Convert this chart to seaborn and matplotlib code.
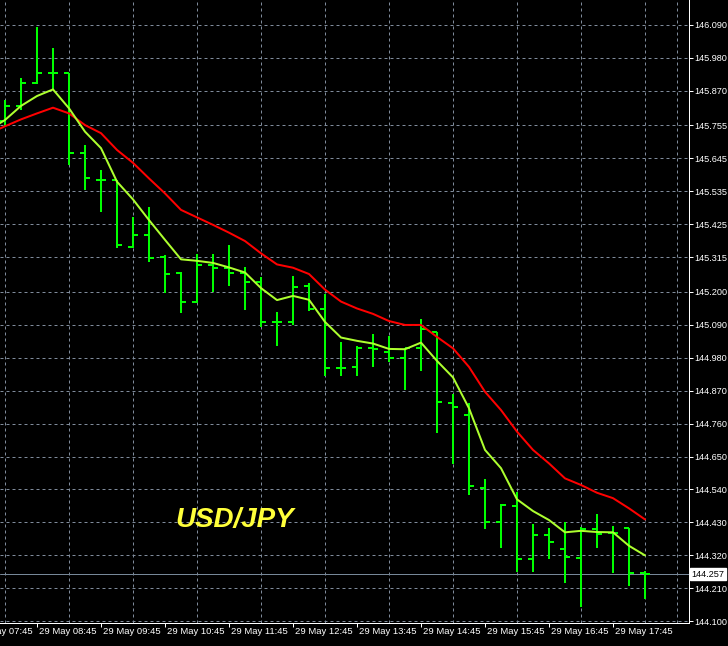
import matplotlib
matplotlib.use("Agg")
import matplotlib.pyplot as plt
import matplotlib.transforms as mtransforms
import numpy as np
import pandas as pd
import seaborn as sns

# ---------------- data ----------------
bar_index = list(range(41))  # 15-minute bars, 29 May 08:15 .. 18:15
opens = [145.770, 145.821, 145.897, 145.929, 145.929, 145.662, 145.573, 145.573, 145.350, 145.388,
         145.315, 145.261, 145.165, 145.288, 145.280, 145.261, 145.232, 145.098, 145.100, 145.219,
         145.142, 144.946, 144.950, 145.011, 145.000, 144.978, 145.011, 145.067, 144.828, 144.789,
         144.546, 144.431, 144.486, 144.307, 144.388, 144.342, 144.312, 144.408, 144.394, 144.410, 144.260]
highs = [145.840, 145.914, 146.084, 146.012, 145.929, 145.690, 145.606, 145.573, 145.450, 145.484,
         145.323, 145.265, 145.326, 145.326, 145.356, 145.283, 145.248, 145.131, 145.252, 145.228,
         145.192, 145.033, 145.019, 145.059, 145.052, 145.011, 145.108, 145.067, 144.859, 144.829,
         144.574, 144.491, 144.533, 144.425, 144.410, 144.431, 144.414, 144.458, 144.418, 144.410, 144.268]
lows = [145.753, 145.806, 145.893, 145.873, 145.623, 145.539, 145.467, 145.346, 145.345, 145.300,
        145.197, 145.130, 145.161, 145.200, 145.220, 145.139, 145.083, 145.019, 145.089, 145.137,
        144.919, 144.919, 144.919, 144.948, 144.966, 144.872, 144.936, 144.730, 144.625, 144.522,
        144.407, 144.344, 144.266, 144.264, 144.308, 144.227, 144.147, 144.346, 144.260, 144.218, 144.174]
closes = [145.821, 145.897, 145.929, 145.929, 145.664, 145.578, 145.573, 145.356, 145.388, 145.314,
          145.258, 145.165, 145.288, 145.280, 145.261, 145.233, 145.098, 145.098, 145.217, 145.142,
          144.946, 144.946, 145.012, 145.009, 144.978, 145.011, 145.075, 144.833, 144.816, 144.553,
          144.431, 144.488, 144.309, 144.388, 144.364, 144.316, 144.408, 144.390, 144.394, 144.262, 144.257]

ma_index = list(range(-1, 41))
ma_fast = [145.740, 145.773, 145.820, 145.853, 145.875, 145.812, 145.734, 145.679, 145.567, 145.508, 145.439,
           145.373, 145.308, 145.303, 145.296, 145.281, 145.264, 145.212, 145.172, 145.186, 145.173,
           145.099, 145.047, 145.036, 145.027, 145.009, 145.008, 145.030, 144.969, 144.914, 144.811,
           144.672, 144.611, 144.507, 144.468, 144.438, 144.397, 144.402, 144.398, 144.397, 144.352, 144.320]
ma_slow = [145.728, 145.752, 145.775, 145.795, 145.814, 145.795, 145.756, 145.729, 145.673, 145.630, 145.578,
           145.528, 145.473, 145.448, 145.423, 145.397, 145.369, 145.328, 145.291, 145.280, 145.259,
           145.207, 145.167, 145.144, 145.126, 145.102, 145.089, 145.089, 145.049, 145.011, 144.949,
           144.866, 144.805, 144.733, 144.672, 144.627, 144.577, 144.555, 144.529, 144.511, 144.477, 144.440]

price_ticks = [146.090, 145.980, 145.870, 145.755, 145.645, 145.535, 145.425, 145.315, 145.200, 145.090,
               144.980, 144.870, 144.760, 144.650, 144.540, 144.430, 144.320, 144.210, 144.100]
time_label_index = [-2, 2, 6, 10, 14, 18, 22, 26, 30, 34, 38]
time_labels = ["29 May 07:45", "29 May 08:45", "29 May 09:45", "29 May 10:45", "29 May 11:45",
               "29 May 12:45", "29 May 13:45", "29 May 14:45", "29 May 15:45", "29 May 16:45",
               "29 May 17:45"]
bid_price = 144.257
symbol = "USD/JPY"

# ---------------- style ----------------
sns.set_theme(style="dark")
plt.rcParams['font.family'] = ['Liberation Sans', 'DejaVu Sans']

W, H, DPI = 728, 646, 100
fig = plt.figure(figsize=(W / DPI, H / DPI), dpi=DPI, facecolor='black')
ax_right_px, ax_bottom_px = 688.5, 623.3
ax = fig.add_axes([0, (H - ax_bottom_px) / H, ax_right_px / W, ax_bottom_px / H])
ax.set_facecolor('black')

px = 1 / 16.0  # one pixel in bar units
ax.set_xlim(-5 * px, (ax_right_px - 5) * px)
ax.set_ylim(144.0934, 146.1734)

grid_col = '#7f8b9b'
lw1 = 72 / DPI  # 1 px

# grid
ax.set_xticks(np.arange(0, 43, 2), minor=True)
ax.set_xticks([i for i in time_label_index if i >= 0])
ax.set_xticklabels([])
ax.set_yticks(price_ticks)
ax.set_yticklabels([f"{v:.3f}" for v in price_ticks])
ax.grid(False)
ax.grid(True, which='minor', axis='x', color=grid_col, lw=lw1, linestyle=(0, (3, 3)))
ax.grid(True, which='major', axis='y', color=grid_col, lw=lw1, linestyle=(0, (3, 3)))
ax.set_axisbelow(True)

# bid line
ax.axhline(bid_price, color='#778899', lw=lw1, zorder=1.5)

# OHLC bars
bar_col = '#00FF00'
blw = 2 * 72 / DPI
x = np.array(bar_index, dtype=float)
ax.vlines(x, lows, highs, color=bar_col, lw=blw, zorder=2)
ax.hlines(opens, x - 5 * px, x, color=bar_col, lw=blw, zorder=2)
ax.hlines(closes, x, x + 5 * px, color=bar_col, lw=blw, zorder=2)

# moving averages
sns.lineplot(x=ma_index, y=ma_slow, color='#FF0000', lw=blw, ax=ax, zorder=3)
sns.lineplot(x=ma_index, y=ma_fast, color='#ADFF2F', lw=blw, ax=ax, zorder=4)

# symbol label
ax.text((175 - 5) * px, 144.416, symbol, color='#FFFF3A', fontsize=20,
        fontweight='bold', fontstyle='italic', va='baseline', ha='left', zorder=5)

# axes / ticks
for s in ['top', 'left']:
    ax.spines[s].set_visible(False)
for s in ['right', 'bottom']:
    ax.spines[s].set_visible(True)
    ax.spines[s].set_color('white')
    ax.spines[s].set_linewidth(lw1)
ax.yaxis.tick_right()
ax.tick_params(axis='y', which='major', colors='white', length=3, width=lw1, pad=1.2,
               labelsize=6.6, direction='out', right=True, left=False)
ax.tick_params(axis='x', which='major', colors='white', length=3, width=lw1,
               direction='out', bottom=True)
ax.tick_params(axis='x', which='minor', length=0)
ax.set_xlabel('')
ax.set_ylabel('')

# time labels
off = mtransforms.ScaledTranslation(2 / DPI, -4 / DPI, fig.dpi_scale_trans)
trans = mtransforms.blended_transform_factory(ax.transData, ax.transAxes) + off
for i, lab in zip(time_label_index, time_labels):
    ax.text(i, 0, lab, transform=trans, color='white', fontsize=6.8,
            ha='left', va='top', clip_on=False)

# current price box
ptrans = mtransforms.blended_transform_factory(ax.transAxes, ax.transData) + \
    mtransforms.ScaledTranslation(3 / DPI, 0, fig.dpi_scale_trans)
ax.text(1, bid_price, f"{bid_price:.3f}", transform=ptrans, color='black', fontsize=6.6,
        ha='left', va='center', clip_on=False, zorder=10,
        bbox=dict(boxstyle='square,pad=0.15', facecolor='white', edgecolor='white'))

fig.savefig('out.png', dpi=DPI, facecolor='black')
